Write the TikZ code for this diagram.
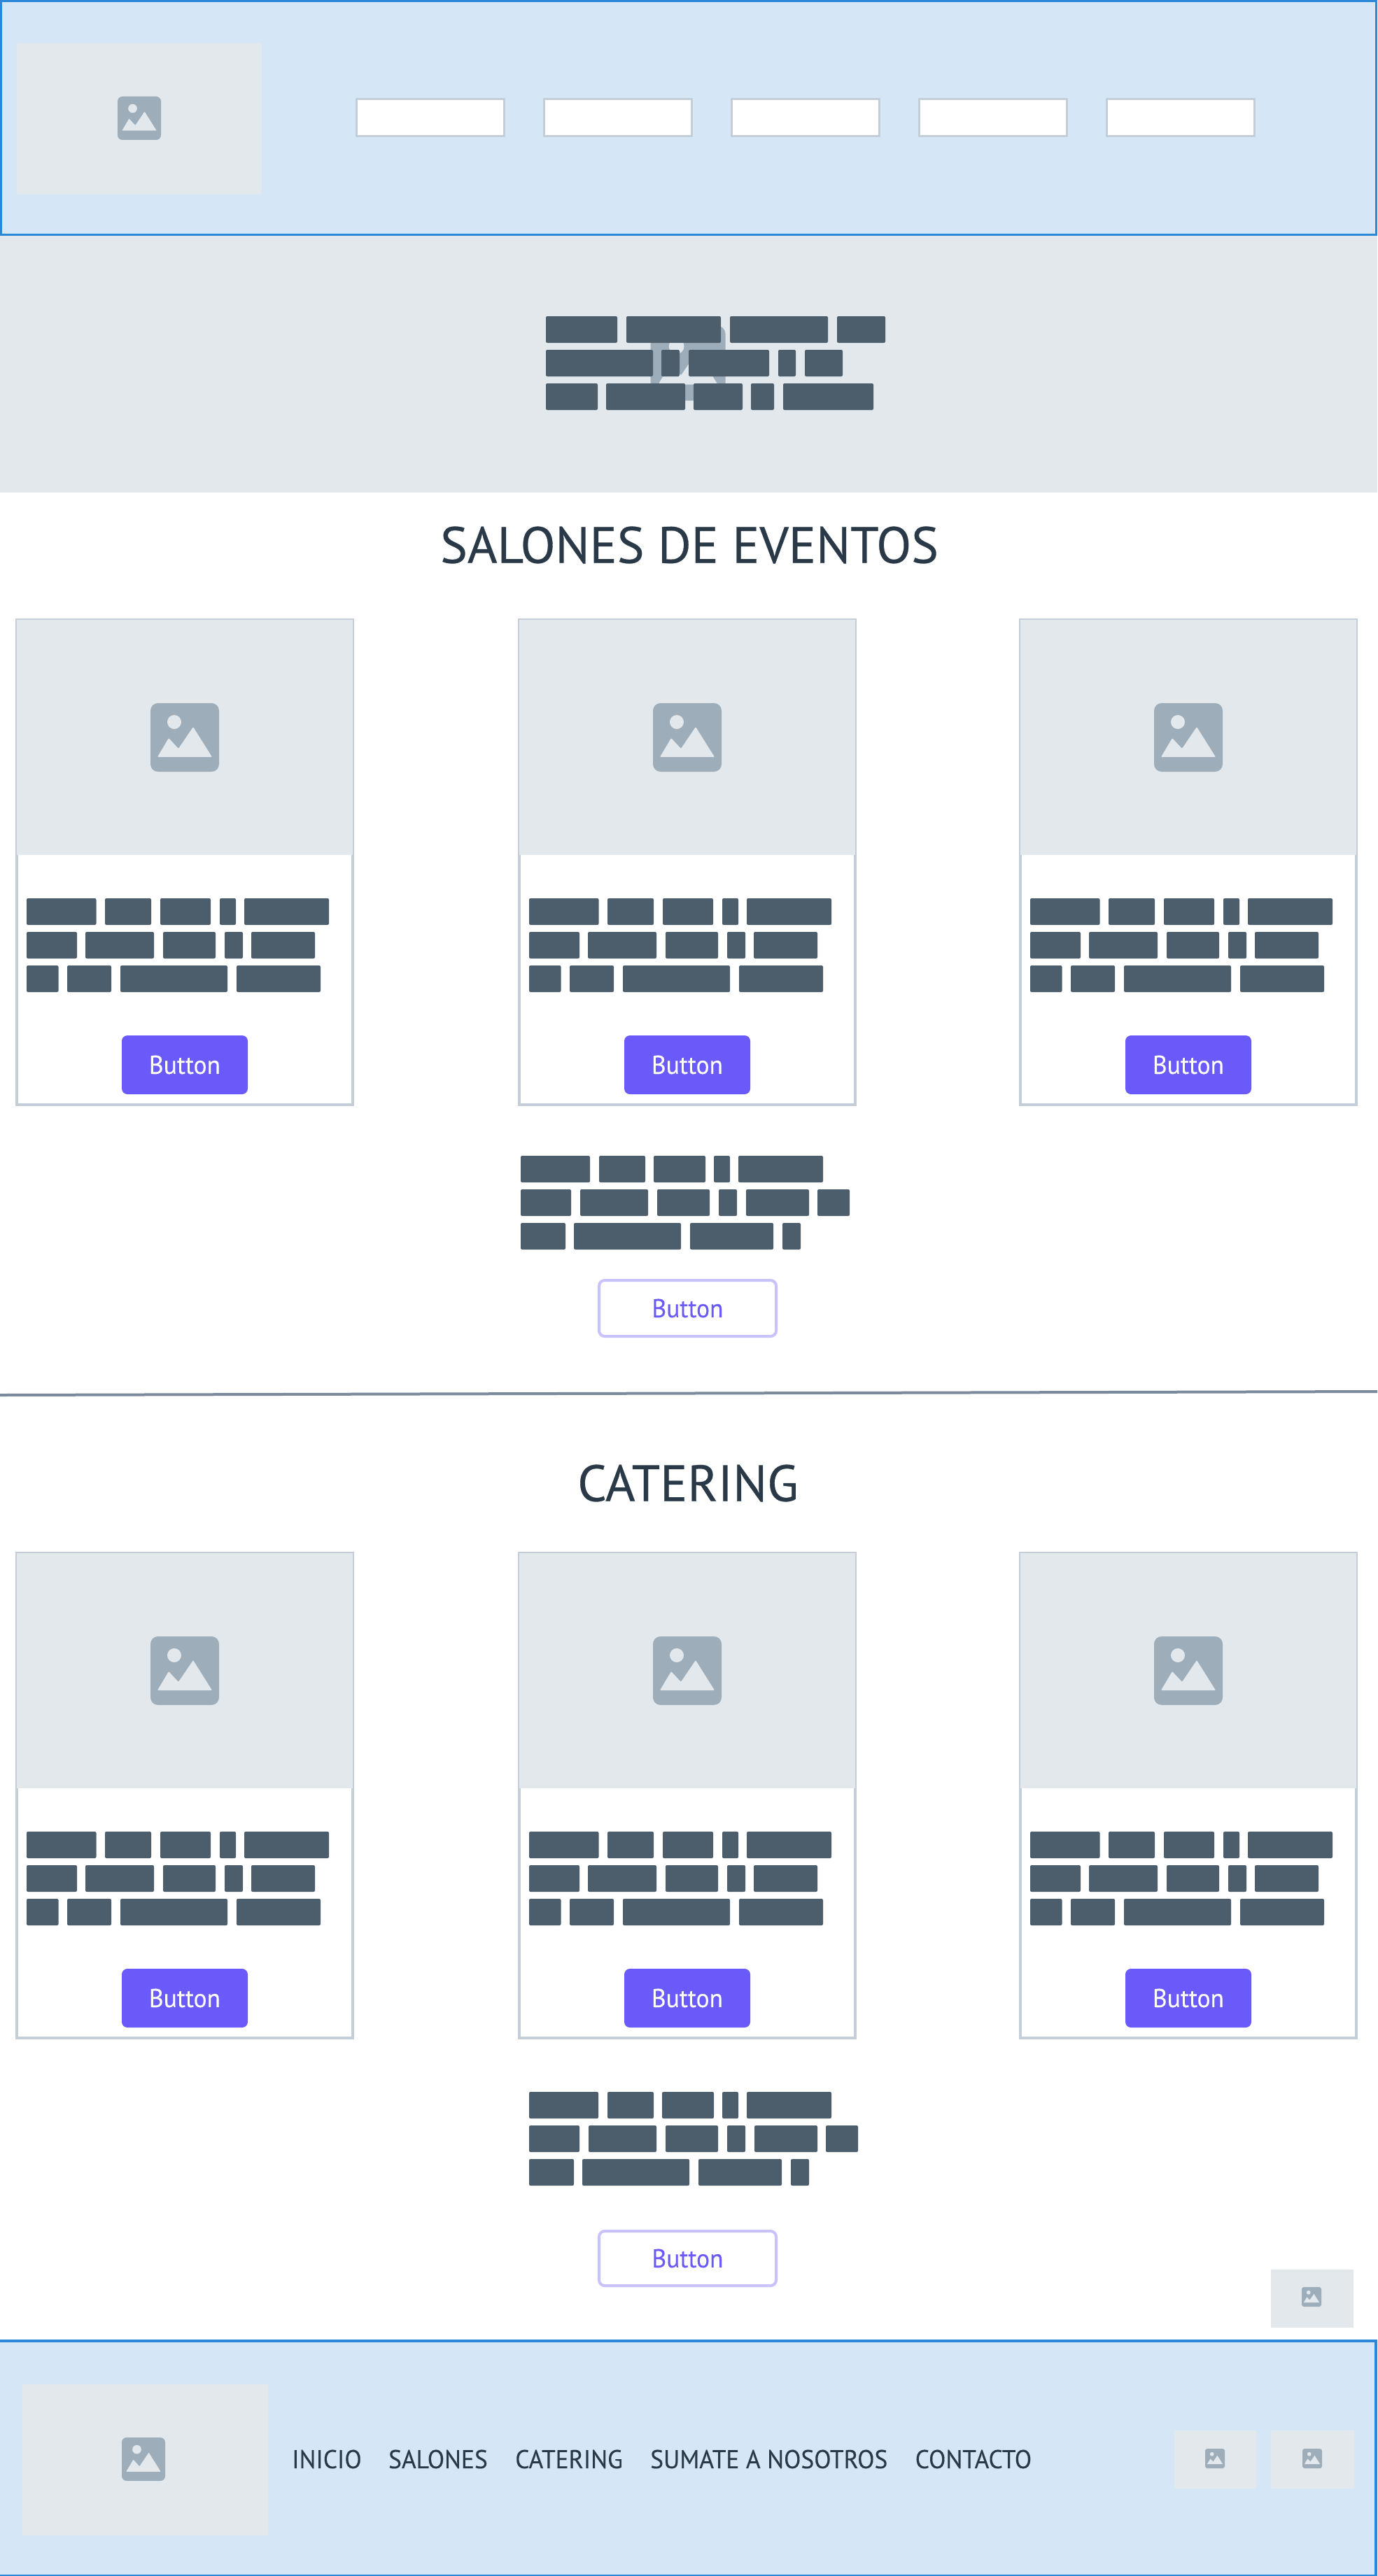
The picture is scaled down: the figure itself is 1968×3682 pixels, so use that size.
\documentclass[tikz,border=0pt]{standalone}
\usepackage{fontspec}
\setmainfont{PT Sans}
\newfontfamily\headfont[FakeBold=0.4]{PT Sans}
\newfontfamily\linkfont[FakeStretch=0.96,FakeBold=0.2]{PT Sans}
\usetikzlibrary{positioning}
\definecolor{barblue}{HTML}{D5E6F6}
\definecolor{frameblue}{HTML}{2B88D8}
\definecolor{imggrey}{HTML}{E2E8EC}
\definecolor{icongrey}{HTML}{9DADBA}
\definecolor{linegrey}{HTML}{C3CED9}
\definecolor{slate}{HTML}{4C5D6C}
\definecolor{inkdark}{HTML}{2A3947}
\definecolor{btnpurple}{HTML}{6A5AF9}
\definecolor{btnedge}{HTML}{C8C3FB}
\definecolor{rulegrey}{HTML}{7C8B9C}

\newcommand{\imgicon}[3]{
  \begin{scope}[shift={(#1,#2)},scale=#3/98]
    \fill[icongrey,rounded corners={#3*0.11}] (-49,-49) rectangle (49,49);
    \fill[imggrey] (-15,-22) circle (10);
    \fill[imggrey,rounded corners={#3*0.01}] (-39,28) -- (-23,1) -- (-9,16) -- (12,-15) -- (39,28) -- cycle;
  \end{scope}
}
\newcommand{\barrow}[2]{
  \foreach \xa/\xb in {#2} { \fill[bar] (\xa,#1) rectangle (\xb,#1+38); }
}
\newcommand{\salecard}[3]{
  \begin{scope}[shift={(#2,#3)}]
    \draw[cardedge] (24,886) rectangle (504,1579);
    \fill[imggrey] (24,886) rectangle (504,1222);
    \imgicon{264}{1054}{98}
    \barrow{1284}{38/137.5,150/216,229/301,314/337,349/470}
    \barrow{1332}{38/110,122/220,233/308,321/347,359/450}
    \barrow{1380}{38/83.5,96/159,172/325,338/458}
    \node[btnsolid] (#1btn) at (264,1522) {Button};
  \end{scope}
}
\newcommand{\textblock}[2]{
  \begin{scope}[shift={(#1,#2)}]
    \barrow{1652}{744/843,856/922,934/1008,1020/1043,1055/1176}
    \barrow{1700}{744/816,829/926,939/1014,1027/1053,1066/1156,1168/1214}
    \barrow{1748}{744/808,820/973,986/1105,1118/1144}
  \end{scope}
}

\begin{document}
\begin{tikzpicture} [
      x = 1pt, y = -1pt,
      bar/.style = { fill = slate, rounded corners = 2pt },
      navbox/.style = { draw = linegrey, fill = white, line width = 3pt, minimum width = 211pt, minimum height = 53pt, inner sep = 0 },
      cardedge/.style = { draw = linegrey, line width = 4pt },
      btnsolid/.style = { fill = btnpurple, text = white, rounded corners = 8pt, minimum width = 180pt, minimum height = 84pt, inner sep = 0, font = \linkfont\fontsize{37}{40}\selectfont },
      btnline/.style = { draw = btnedge, line width = 4pt, text = btnpurple, fill = white, rounded corners = 8pt, minimum width = 253pt, inner sep = 0, font = \linkfont\fontsize{37}{40}\selectfont },
      heading/.style = { text = inkdark, inner sep = 0, font = \headfont\fontsize{73}{80}\selectfont },
      footlink/.style = { text = inkdark, inner sep = 0, font = \linkfont\fontsize{37}{40}\selectfont }
      ]
  \useasboundingbox (0,0) rectangle (1968,3682);

  \draw[frameblue, fill = barblue, line width = 3pt] (1.5,1.5) rectangle (1966.5,335);
  \fill[imggrey] (24,62) rectangle (374,278);
  \imgicon{199}{169}{62}
  \foreach \nx in {615,883,1151,1419,1687} { \node[navbox] (nav\nx) at (\nx,168) {}; }

  \fill[imggrey] (0,337) rectangle (1968,704);
  \imgicon{983}{519}{107}
  \barrow{452}{780/882,895/1030,1043/1183,1196/1265}
  \barrow{500}{780/933,945/971,984/1099,1112/1137,1150/1204}
  \barrow{548}{780/854,866/979,991/1061,1073/1106,1119/1248}

  \node[heading] (salones) at (985,779) {SALONES DE EVENTOS};
  \salecard{salonA}{0}{0}
  \salecard{salonB}{718}{0}
  \salecard{salonC}{1434}{0}
  \textblock{0}{0}
  \node[btnline, minimum height = 80pt] (salonmore) at (982.5,1870) {Button};

  \draw[rulegrey, line width = 4pt] (0,1994) -- (1968,1989);

  \node[heading] (catering) at (983,2120) {CATERING};
  \salecard{cateA}{0}{1334}
  \salecard{cateB}{718}{1334}
  \salecard{cateC}{1434}{1334}
  \textblock{12}{1338}
  \node[btnline, minimum height = 78pt] (catemore) at (982.5,3228) {Button};

  \fill[imggrey] (1816,3244) rectangle (1934,3327);
  \imgicon{1874}{3283}{28}

  \draw[frameblue, fill = barblue, line width = 4pt] (-2,3346) rectangle (1966,3682);
  \fill[imggrey] (32,3408) rectangle (383,3624);
  \imgicon{205}{3515}{62}
  \node[footlink, anchor = west] (inicio) at (417,3515) {INICIO};
  \node[footlink, right = 38pt of inicio] (salonlink) {SALONES};
  \node[footlink, right = 39pt of salonlink] (catelink) {CATERING};
  \node[footlink, right = 39pt of catelink] (sumate) {SUMATE A NOSOTROS};
  \node[footlink, right = 39pt of sumate] (contacto) {CONTACTO};
  \fill[imggrey] (1678,3474) rectangle (1795,3557);
  \imgicon{1736}{3514}{28}
  \fill[imggrey] (1816,3474) rectangle (1935,3557);
  \imgicon{1875}{3514}{28}
\end{tikzpicture}
\end{document}
